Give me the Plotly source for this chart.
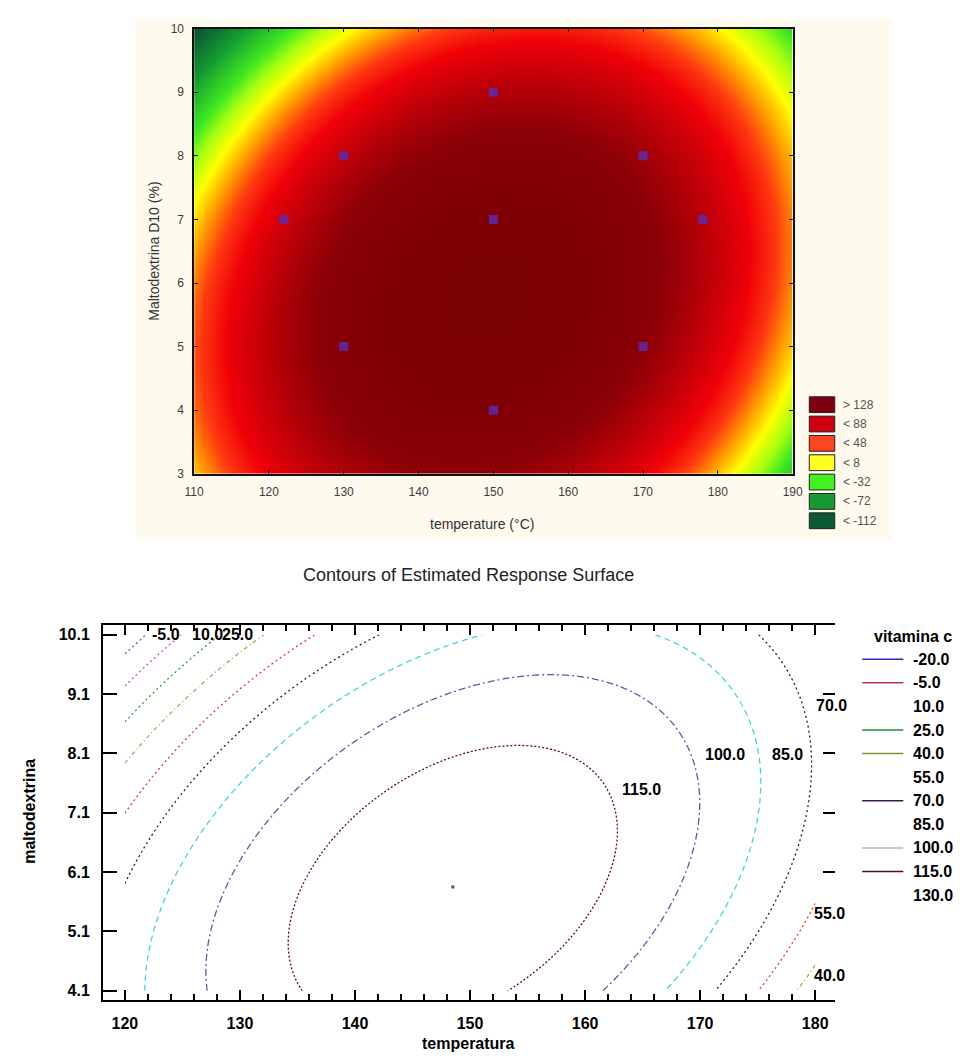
import numpy as np
import plotly.graph_objects as go

W, H = 977, 1061


def fx(p):
    return p / W


def fy(p):
    return 1 - p / H


# Quadratic response surfaces: peak value, peak location (temp, malto)
# and curvature terms (temp^2, temp*malto, malto^2)
shaded_peak = [170.5, 149.3, 5.73]
shaded_curv = [0.0855, -0.266, 6.27]

contour_peak = [127.0, 148.5, 5.85]
contour_curv = [0.0695, -0.33, 2.5]


def surface(t, m, peak, curv):
    u = t - peak[1]
    v = m - peak[2]
    return peak[0] - (curv[0] * u * u + curv[1] * u * v + curv[2] * v * v)


# Experimental design points
design_temp = [122, 130, 130, 150, 150, 150, 170, 170, 178]
design_malto = [7, 5, 8, 4, 7, 9, 5, 8, 7]

# Upper panel colour key
key_labels = ["> 128", "< 88", "< 48", "< 8", "< -32", "< -72", "< -112"]
key_colors = ["#7e0010", "#d00010", "#ff4420", "#ffff20", "#44f020", "#169a32", "#0b5a35"]

# Lower panel: evaluated region and contour levels
eval_temp = [120, 180]
eval_malto = [4.1, 10.1]
contour_levels = [-20, -5, 10, 25, 40, 55, 70, 85, 100, 115, 130]
line_colors = ["#2a2ab4", "#9a3cc8", "#d048c8", "#2e9a3a", "#a8a84a", "#e0304c",
               "#2c1432", "#3fd6dc", "#5a5aa0", "#5c0c1e", "#7a0030"]
line_dashes = ["2px,3px", "2px,3px", "2px,3px", "2px,3px", "4px,3px,1px,3px", "2px,3px",
               "2px,3px", "6px,4px", "7px,3px,2px,3px", "2px,2px", "solid"]
legend_line_colors = ["#2a2ab4", "#c0304a", None, "#2e8a3e", "#8a8a3a", None,
                      "#3a1850", None, "#b8b0cc", "#5c0c1e", None]

# Levels that carry an inline label, with their label anchor (temp, malto)
labelled_levels = [-5, 10, 25, 40, 55, 70, 85, 100, 115]
label_anchor_t = [123.6, 127.2, 129.8, 181.2, 181.2, 181.4, 177.6, 172.2, 164.9]
label_anchor_m = [10.11, 10.11, 10.11, 4.35, 5.41, 8.91, 8.08, 8.08, 7.49]

x_ticks_top = list(range(110, 191, 10))
y_ticks_top = list(range(3, 11))
x_ticks_bot = [120, 130, 140, 150, 160, 170, 180]
y_ticks_bot = [4.1, 5.1, 6.1, 7.1, 8.1, 9.1, 10.1]

fig = go.Figure()

# ---------- upper panel: shaded response surface ----------
t_top = np.linspace(110, 190, 321)
m_top = np.linspace(3, 10, 281)
TT, MM = np.meshgrid(t_top, m_top)
z_top = surface(TT, MM, shaded_peak, shaded_curv)

zmin, zmax = -125.0, 171.0
heat_stops = [(-125, "#0a5032"), (-112, "#0b5a35"), (-72, "#169a32"), (-32, "#3ee822"),
              (-12, "#a8ff10"), (8, "#ffff00"), (28, "#ffa000"), (48, "#ff3a10"),
              (70, "#f00008"), (88, "#d00008"), (128, "#8a0006"), (171, "#7a0004")]
colorscale = [[(v - zmin) / (zmax - zmin), c] for v, c in heat_stops]

fig.add_trace(go.Heatmap(x=t_top, y=m_top, z=z_top, colorscale=colorscale, zmin=zmin, zmax=zmax,
                         zsmooth="best", showscale=False, hoverinfo="skip",
                         xaxis="x", yaxis="y"))
fig.add_trace(go.Scatter(x=design_temp, y=design_malto, mode="markers",
                         marker=dict(symbol="square", size=9, color="rgba(92,44,170,0.85)"),
                         showlegend=False, hoverinfo="skip", xaxis="x", yaxis="y"))

# ---------- lower panel: contour lines ----------
t_bot = np.linspace(eval_temp[0], eval_temp[1], 401)
m_bot = np.linspace(eval_malto[0], eval_malto[1], 401)
TB, MB = np.meshgrid(t_bot, m_bot)
z_bot = surface(TB, MB, contour_peak, contour_curv)

for lvl, col, dash in zip(contour_levels, line_colors, line_dashes):
    fig.add_trace(go.Contour(x=t_bot, y=m_bot, z=z_bot,
                             contours=dict(start=lvl, end=lvl, size=15, coloring="lines",
                                           showlabels=False),
                             colorscale=[[0, col], [1, col]], showscale=False,
                             line=dict(width=1.3, dash=dash), hoverinfo="skip",
                             showlegend=False, xaxis="x2", yaxis="y2"))

fig.add_trace(go.Scatter(x=[contour_peak[1]], y=[contour_peak[2]], mode="markers",
                         marker=dict(symbol="square", size=3, color="#555"),
                         showlegend=False, hoverinfo="skip", xaxis="x2", yaxis="y2"))
fig.add_trace(go.Scatter(x=[None], y=[None], showlegend=False, xaxis="x2", yaxis="y3"))

top_font = dict(family="Arial", size=12, color="#3c3c3c")
bold_font = dict(family="Arial", size=16, color="black", weight="bold")


def note(x, y, text, font, xref="paper", yref="paper", xanchor="center", angle=0):
    return dict(x=x, y=y, xref=xref, yref=yref, text=text, showarrow=False,
                xanchor=xanchor, yanchor="middle", textangle=angle, font=font)


annotations = []
shapes = []

# cream panel behind the upper chart
shapes.append(dict(type="rect", xref="paper", yref="paper", x0=fx(128), x1=fx(900),
                   y0=fy(540), y1=fy(12), fillcolor="#fefaee", line=dict(width=0),
                   layer="below"))

# colour key of the upper chart
for i, (lab, col) in enumerate(zip(key_labels, key_colors)):
    top = 395 + i * 19.6
    shapes.append(dict(type="rect", xref="paper", yref="paper", x0=fx(816), x1=fx(842),
                       y0=fy(top + 16), y1=fy(top), fillcolor=col,
                       line=dict(color="#222", width=1)))
    annotations.append(note(fx(848), fy(top + 8), lab,
                            dict(family="Arial", size=12, color="#555"), xanchor="left"))

annotations += [
    note(fx(482), fy(524), "temperature (°C)", dict(family="Arial", size=14, color="#333")),
    note(fx(147), fy(247), "Maltodextrina D10 (%)", dict(family="Arial", size=14, color="#333"),
         angle=-90),
    note(fx(468), fy(576), "Contours of Estimated Response Surface",
         dict(family="Arial", size=18, color="#222")),
    note(fx(468), fy(1050), "temperatura", bold_font),
    note(fx(20), fy(815), "maltodextrina", bold_font, angle=-90),
    note(fx(880), fy(638), "vitamina c", bold_font, xanchor="left"),
]

# inline contour labels
for lvl, t, m in zip(labelled_levels, label_anchor_t, label_anchor_m):
    annotations.append(note(t, m, f"{lvl:.1f}", bold_font, xref="x2", yref="y2"))

# legend of the lower chart
for i, (lvl, col) in enumerate(zip(contour_levels, legend_line_colors)):
    yy = 661 + i * 23.9
    if col is not None:
        shapes.append(dict(type="line", xref="paper", yref="paper", x0=fx(870), x1=fx(912),
                           y0=fy(yy), y1=fy(yy), line=dict(color=col, width=1.5)))
    annotations.append(note(fx(920), fy(yy), f"{lvl:.1f}", bold_font, xanchor="left"))

fig.update_layout(
    width=W, height=H, margin=dict(l=0, r=0, t=0, b=0),
    paper_bgcolor="white", plot_bgcolor="rgba(0,0,0,0)", showlegend=False,
    xaxis=dict(domain=[fx(188), fx(799)], range=[110, 190], anchor="y",
               tickvals=x_ticks_top, ticks="inside", ticklen=4, tickcolor="#111",
               showline=True, linecolor="#111", linewidth=1.5, mirror="ticks",
               showgrid=False, zeroline=False, tickfont=top_font, ticklabelstandoff=6),
    yaxis=dict(domain=[fy(473), fy(22)], range=[3, 10], anchor="x",
               tickvals=y_ticks_top, ticks="inside", ticklen=4, tickcolor="#111",
               showline=True, linecolor="#111", linewidth=1.5, mirror="ticks",
               showgrid=False, zeroline=False, tickfont=top_font, ticklabelstandoff=6),
    xaxis2=dict(domain=[fx(95), fx(842)], range=[118.1, 181.7], anchor="y2",
                tickvals=x_ticks_bot, ticks="inside", ticklen=10, tickwidth=1.5,
                tickcolor="black", showline=True, linecolor="black", linewidth=2,
                mirror="ticks", showgrid=False, zeroline=False, tickfont=bold_font,
                ticklabelstandoff=8,
                minor=dict(dtick=2, ticks="inside", ticklen=6, tickwidth=1.5,
                           tickcolor="black", showgrid=False)),
    yaxis2=dict(domain=[fy(1006), fy(626)], range=[3.95, 10.27], anchor="x2",
                tickvals=y_ticks_bot, ticktext=[f"{v:.1f}" for v in y_ticks_bot],
                ticks="inside", ticklen=14, tickwidth=1.5, tickcolor="black",
                showline=True, linecolor="black", linewidth=2, mirror=False,
                showgrid=False, zeroline=False, tickfont=bold_font, ticklabelstandoff=8),
    yaxis3=dict(overlaying="y2", side="right", anchor="x2", range=[3.95, 10.27],
                tickvals=[6.1, 7.1, 8.1, 9.1], ticks="inside", ticklen=12, tickwidth=1.5,
                tickcolor="black", showline=False, showticklabels=False,
                showgrid=False, zeroline=False),
    shapes=shapes, annotations=annotations,
)

fig.write_html("out.html")
